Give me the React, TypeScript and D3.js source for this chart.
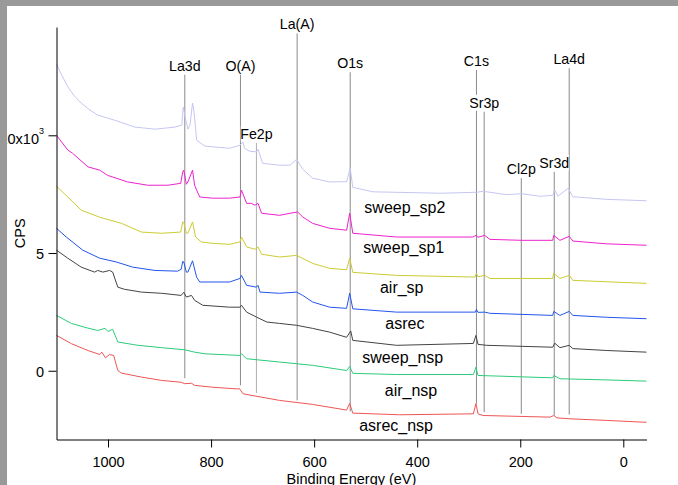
import React, { useEffect, useRef } from "react";
import * as d3 from "d3";

// [binding energy (eV), CPS] (offsets included)
const sweepSp2: [number, number][] = [
  [1100, 13020], [1090, 12560], [1078, 12060], [1065, 11660], [1052, 11370], [1035, 11070],
  [1020, 10860], [987, 10640], [948, 10350], [909, 10260], [870, 10350], [857, 10430],
  [854, 11200], [850, 10730], [845, 10260], [841, 10430], [836, 11370], [833, 10980],
  [828, 9790], [812, 9540], [764, 9450], [744, 9580], [738, 9710], [735, 9450], [725, 9320],
  [712, 9300], [709, 9410], [700, 8810], [667, 8730], [647, 8730], [634, 8980], [622, 8560],
  [603, 8180], [570, 8020], [537, 8030], [530, 8600], [525, 7790], [486, 7600], [356, 7540],
  [285, 7580], [272, 7620], [226, 7480], [197, 7520], [162, 7410], [137, 7450], [133, 7670],
  [127, 7410], [107, 7750], [98, 7390], [32, 7280], [-45, 7220],
];
const sweepSp1: [number, number][] = [
  [1100, 10000], [1078, 9370], [1069, 9240], [1039, 8660], [1016, 8520], [1001, 8300],
  [962, 8020], [923, 7880], [884, 7880], [859, 7960], [855, 8440], [853, 8520], [848, 7920],
  [845, 8020], [836, 8520], [832, 7880], [828, 7670], [822, 7380], [797, 7330], [764, 7330],
  [744, 7380], [741, 7670], [731, 7110], [722, 7110], [715, 7030], [709, 7110], [702, 6690],
  [667, 6600], [647, 6690], [632, 6740], [622, 6530], [603, 6260], [570, 6050], [537, 5970],
  [531, 6690], [525, 5840], [440, 5680], [292, 5680], [286, 5750], [282, 5670], [269, 5750],
  [259, 5580], [197, 5540], [137, 5540], [135, 5750], [123, 5540], [105, 5710], [98, 5510],
  [32, 5390], [-45, 5330],
];
const airSp: [number, number][] = [
  [1100, 7840], [1078, 7380], [1052, 6820], [1016, 6520], [974, 6260], [935, 5890], [896, 5840],
  [859, 5890], [855, 6320], [853, 6300], [848, 5840], [845, 5840], [836, 6320], [830, 5680],
  [819, 5470], [797, 5410], [764, 5370], [744, 5470], [741, 5680], [731, 5260], [715, 5160],
  [709, 5260], [702, 4950], [667, 4830], [634, 4900], [603, 4560], [570, 4350], [537, 4290],
  [531, 4780], [525, 4180], [440, 4050], [288, 3980], [285, 4140], [282, 3990], [269, 4050],
  [259, 3920], [137, 3920], [135, 4140], [123, 3920], [105, 4050], [98, 3840], [32, 3780],
  [-45, 3710],
];
const asrec: [number, number][] = [
  [1100, 6050], [1081, 5680], [1049, 5120], [1016, 4780], [984, 4620], [952, 4400], [909, 4260],
  [865, 4230], [858, 4310], [855, 4650], [853, 4620], [848, 4190], [845, 4190], [836, 4670],
  [828, 3970], [822, 3770], [764, 3770], [744, 3920], [741, 4050], [731, 3630], [712, 3550],
  [709, 3630], [705, 3340], [667, 3290], [634, 3340], [622, 3200], [603, 2920], [570, 2700],
  [537, 2650], [531, 3290], [525, 2630], [440, 2490], [287, 2490], [285, 2610], [282, 2480],
  [269, 2490], [259, 2440], [137, 2350], [135, 2520], [123, 2350], [105, 2520], [98, 2350],
  [32, 2270], [-45, 2210],
];
const sweepNsp: [number, number][] = [
  [1100, 5120], [1078, 4780], [1052, 4400], [1026, 4190], [1020, 4260], [1010, 4190],
  [997, 4260], [991, 4190], [981, 3550], [968, 3460], [935, 3340], [896, 3290], [858, 3200],
  [853, 3330], [848, 3130], [838, 3200], [832, 2990], [816, 2780], [764, 2700], [744, 2700],
  [741, 2780], [731, 2490], [712, 2280], [692, 2070], [667, 2010], [634, 1930], [603, 1800],
  [570, 1640], [537, 1420], [529, 1690], [525, 1290], [440, 1080], [291, 1160], [286, 1500],
  [282, 1120], [265, 1080], [137, 1000], [133, 1170], [123, 980], [105, 1080], [98, 940],
  [32, 860], [-45, 790],
];
const airNsp: [number, number][] = [
  [1100, 2350], [1071, 2010], [1039, 1810], [1020, 1710], [1006, 1800], [1000, 1670],
  [991, 1760], [981, 1220], [942, 1080], [896, 980], [851, 890], [832, 790], [812, 720],
  [744, 650], [741, 720], [731, 510], [667, 370], [603, 230], [537, 10], [531, 180],
  [525, -110], [440, -160], [291, -160], [286, 150], [282, -200], [137, -300], [135, -200],
  [123, -340], [32, -390], [-45, -440],
];
const asrecNsp: [number, number][] = [
  [1100, 1500], [1071, 1150], [1039, 860], [1016, 690], [1012, 790], [1005, 550], [997, 690],
  [989, 650], [981, 10], [974, -100], [935, -270], [896, -410], [858, -490], [851, -550],
  [838, -530], [832, -620], [797, -700], [751, -770], [745, -760], [738, -980], [667, -1260],
  [603, -1430], [537, -1670], [531, -1390], [525, -1800], [434, -1870], [291, -1830],
  [286, -1390], [282, -1830], [272, -1900], [142, -1970], [135, -1900], [129, -2000],
  [105, -2040], [32, -2110], [-45, -2190],
];

const seriesNames = ["sweep_sp2", "sweep_sp1", "air_sp", "asrec", "sweep_nsp", "air_nsp", "asrec_nsp"];
const seriesData = [sweepSp2, sweepSp1, airSp, asrec, sweepNsp, airNsp, asrecNsp];
const seriesColors = ["#c6c6f4", "#ee22cc", "#cccc33", "#2255ee", "#444444", "#2ccc7a", "#ee5555"];
// where each trace name sits (eV, CPS)
const nameEV = [424, 426, 430, 424, 428, 412, 441];
const nameCPS = [6690, 4990, 3290, 1760, 350, -1090, -2580];

const peakNames = ["La3d", "O(A)", "Fe2p", "La(A)", "O1s", "C1s", "Sr3p", "Cl2p", "Sr3d", "La4d"];
const peakEV = [851, 743, 712, 633, 530, 285, 270, 198, 134, 105];
const peakTop = [12570, 12570, 9680, 14330, 12680, 12770, 11000, 8180, 8450, 12850];
const peakBottom = [-320, -620, -950, -1260, -1730, -1390, -1760, -1830, -1900, -1860];

const xTicks = [1000, 800, 600, 400, 200, 0];
const yTicks = [0, 5000, 10000];

const W = 678;
const H = 485;
const FONT = "'Liberation Sans', Arial, Helvetica, sans-serif";

const App = () => {
  const svgRef = useRef<SVGSVGElement>(null);

  useEffect(() => {
    const svg = d3.select(svgRef.current);
    svg.selectAll("*").remove();

    const x = d3.scaleLinear().domain([1100, -45]).range([56.5, 646.5]);
    const y = d3.scaleLinear().domain([-2920, 14600]).range([439.5, 27]);

    svg.append("rect").attr("width", W).attr("height", H).attr("fill", "#fff");

    // peak marker lines
    peakNames.forEach((_, i) => {
      svg.append("line")
        .attr("x1", x(peakEV[i])).attr("x2", x(peakEV[i]))
        .attr("y1", y(peakTop[i])).attr("y2", y(peakBottom[i]))
        .attr("stroke", i === 2 ? "#b0b0b0" : "#8a8a8a")
        .attr("stroke-width", 1);
    });

    // spectra
    const line = d3.line<[number, number]>().x((d) => x(d[0])).y((d) => y(d[1]));
    seriesData.forEach((data, i) => {
      svg.append("path")
        .datum(data)
        .attr("d", line)
        .attr("fill", "none")
        .attr("stroke", seriesColors[i])
        .attr("stroke-width", 1)
        .attr("stroke-linejoin", "round");
    });

    // trace names
    seriesNames.forEach((name, i) => {
      svg.append("text")
        .attr("x", x(nameEV[i])).attr("y", y(nameCPS[i]))
        .attr("text-anchor", "middle")
        .attr("font-family", FONT).attr("font-size", 16)
        .attr("fill", "#000")
        .text(name);
    });

    // peak labels (opaque background)
    peakNames.forEach((name, i) => {
      const g = svg.append("g");
      const t = g.append("text")
        .attr("x", x(peakEV[i])).attr("y", y(peakTop[i]) - 4)
        .attr("text-anchor", "middle")
        .attr("font-family", FONT).attr("font-size", 14.2)
        .attr("fill", "#000")
        .text(name);
      const b = (t.node() as SVGTextElement).getBBox();
      g.insert("rect", "text")
        .attr("x", b.x + 0.5).attr("y", b.y)
        .attr("width", b.width - 1).attr("height", b.height)
        .attr("fill", "#fff");
    });

    // x axis
    const gx = svg.append("g")
      .attr("transform", "translate(0,439.5)")
      .call(d3.axisBottom(x).tickValues(xTicks).tickSize(8).tickSizeOuter(0).tickPadding(9).tickFormat(d3.format("d")));
    gx.attr("font-family", FONT).attr("font-size", 14.5);
    gx.selectAll("text").attr("fill", "#000");

    // y axis
    const gy = svg.append("g")
      .attr("transform", "translate(56.5,0)")
      .call(
        d3.axisLeft(y).tickValues(yTicks).tickSize(8).tickSizeOuter(0).tickPadding(4.5)
          .tickFormat((d) => (+d === 10000 ? "10x10" : String(+d / 1000)))
      );
    gy.attr("font-family", FONT).attr("font-size", 14.5);
    gy.selectAll("text").attr("fill", "#000").attr("dy", "0.37em");
    gy.selectAll<SVGGElement, number>(".tick")
      .filter((d) => d === 10000)
      .select("text")
      .attr("dy", "0.57em")
      .append("tspan")
      .attr("dy", -10)
      .attr("font-size", 9)
      .text("3");

    // axis titles
    svg.append("text")
      .attr("x", (x.range()[0] + x.range()[1]) / 2).attr("y", 483.5)
      .attr("text-anchor", "middle")
      .attr("font-family", FONT).attr("font-size", 14.5)
      .text("Binding Energy (eV)");
    svg.append("text")
      .attr("transform", `translate(25,${(y.range()[0] + y.range()[1]) / 2}) rotate(-90)`)
      .attr("text-anchor", "middle")
      .attr("font-family", FONT).attr("font-size", 14.5)
      .text("CPS");

    // grey window frame
    svg.append("rect").attr("x", 0).attr("y", 0).attr("width", W).attr("height", 6).attr("fill", "#999");
    svg.append("rect").attr("x", 0).attr("y", 0).attr("width", 7).attr("height", H).attr("fill", "#999");
  }, []);

  return (
    <svg
      ref={svgRef}
      width={W}
      height={H}
      style={{ position: "absolute", left: 0, top: 0, display: "block" }}
    />
  );
};

export default App;
